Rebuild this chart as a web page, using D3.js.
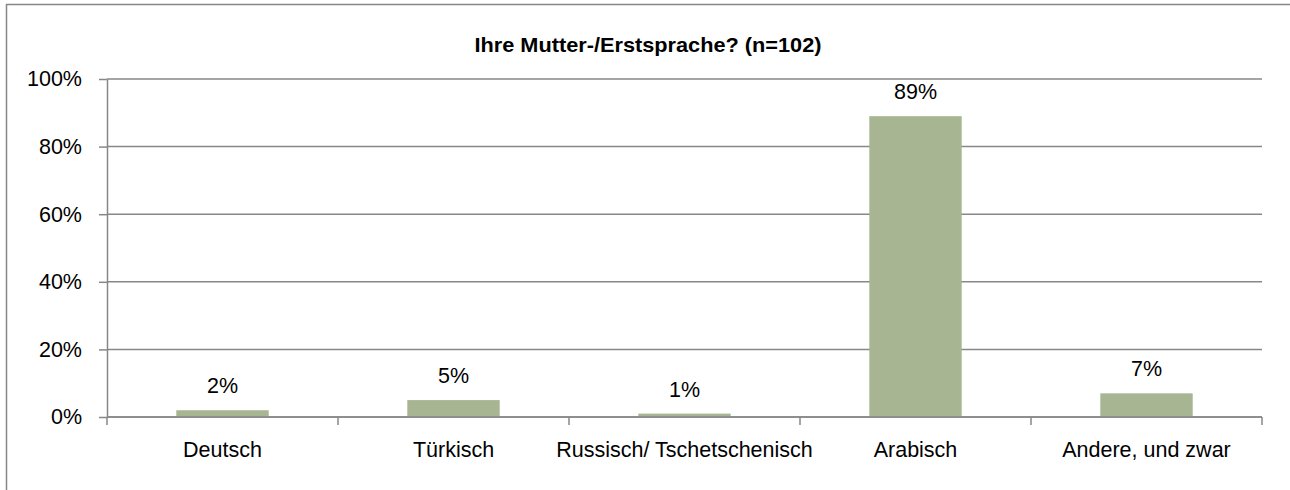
<!DOCTYPE html>
<html>
<head>
<meta charset="utf-8">
<script src="https://cdn.jsdelivr.net/npm/d3@7"></script>
<style>
  body { margin: 0; background: #fff; overflow: hidden; }
  svg { display: block; }
  text { font-family: "Liberation Sans", Arial, sans-serif; fill: #000; }
</style>
</head>
<body>
<div id="chart"></div>
<script>
const categories = ["Deutsch", "Türkisch", "Russisch/ Tschetschenisch", "Arabisch", "Andere, und zwar"];
const values = [0.02, 0.05, 0.01, 0.89, 0.07];
const yTicks = [0, 0.2, 0.4, 0.6, 0.8, 1.0];
const title = "Ihre Mutter-/Erstsprache? (n=102)";

// page dimensions
const width = 1290;
const height = 490;
const plotLeft = 107, plotRight = 1262, plotTop = 79, plotBottom = 417;
const lineColor = "#878787";
const barColor = "#a7b592";

const svg = d3.select("#chart").append("svg")
    .attr("width", width)
    .attr("height", height);

// outer chart frame: only left and top edges fall inside the picture
svg.append("path")
    .attr("d", `M6.5,${height} V4.5 H${width}`)
    .attr("fill", "none")
    .attr("stroke", lineColor)
    .attr("stroke-width", 1.5);

// title
svg.append("text")
    .attr("x", 648)
    .attr("y", 52)
    .attr("text-anchor", "middle")
    .attr("font-size", "21px")
    .attr("font-weight", "bold")
    .attr("textLength", 347)
    .attr("lengthAdjust", "spacingAndGlyphs")
    .text(title);

const xScale = d3.scaleBand().domain(categories).range([plotLeft, plotRight]).padding(0);
const yScale = d3.scaleLinear().domain([0, 1]).range([plotBottom, plotTop]);

// gridlines
svg.append("g").selectAll("line")
    .data(yTicks)
    .enter().append("line")
    .attr("x1", plotLeft).attr("x2", plotRight)
    .attr("y1", d => yScale(d)).attr("y2", d => yScale(d))
    .attr("stroke", lineColor)
    .attr("stroke-width", 1.5);

// y axis
const yAxis = svg.append("g")
    .attr("transform", `translate(${plotLeft},0)`)
    .call(d3.axisLeft(yScale)
        .tickValues(yTicks)
        .tickFormat(d => `${Math.round(d * 100)}%`)
        .tickSize(8)
        .tickSizeOuter(0)
        .tickPadding(17));
yAxis.select(".domain").attr("stroke", lineColor).attr("stroke-width", 1.5);
yAxis.selectAll(".tick line").attr("stroke", lineColor).attr("stroke-width", 1.5);
yAxis.selectAll(".tick text")
    .attr("font-size", "21.5px")
    .attr("font-family", "Liberation Sans, Arial, sans-serif")
    .attr("fill", "#000");

// bars
const barW = xScale.bandwidth() * 0.4;
svg.selectAll(".bar")
    .data(values)
    .enter().append("rect")
    .attr("class", "bar")
    .attr("x", (d, i) => xScale(categories[i]) + (xScale.bandwidth() - barW) / 2)
    .attr("y", d => yScale(d))
    .attr("width", barW)
    .attr("height", d => plotBottom - yScale(d))
    .attr("fill", barColor);

// x axis with category ticks at band edges
const edges = categories.map(c => xScale(c)).concat([plotRight]);
svg.append("line")
    .attr("x1", plotLeft).attr("x2", plotRight)
    .attr("y1", plotBottom).attr("y2", plotBottom)
    .attr("stroke", lineColor).attr("stroke-width", 1.5);
svg.append("g").selectAll("line")
    .data(edges)
    .enter().append("line")
    .attr("x1", d => d).attr("x2", d => d)
    .attr("y1", plotBottom).attr("y2", plotBottom + 8)
    .attr("stroke", lineColor).attr("stroke-width", 1.5);

// category labels
svg.append("g").selectAll("text")
    .data(categories)
    .enter().append("text")
    .attr("x", d => xScale(d) + xScale.bandwidth() / 2)
    .attr("y", plotBottom + 40)
    .attr("text-anchor", "middle")
    .attr("font-size", "21.5px")
    .text(d => d);

// value labels
svg.append("g").selectAll("text")
    .data(values)
    .enter().append("text")
    .attr("x", (d, i) => xScale(categories[i]) + xScale.bandwidth() / 2)
    .attr("y", d => yScale(d) - 17)
    .attr("text-anchor", "middle")
    .attr("font-size", "21.5px")
    .text(d => `${Math.round(d * 100)}%`);
</script>
</body>
</html>
